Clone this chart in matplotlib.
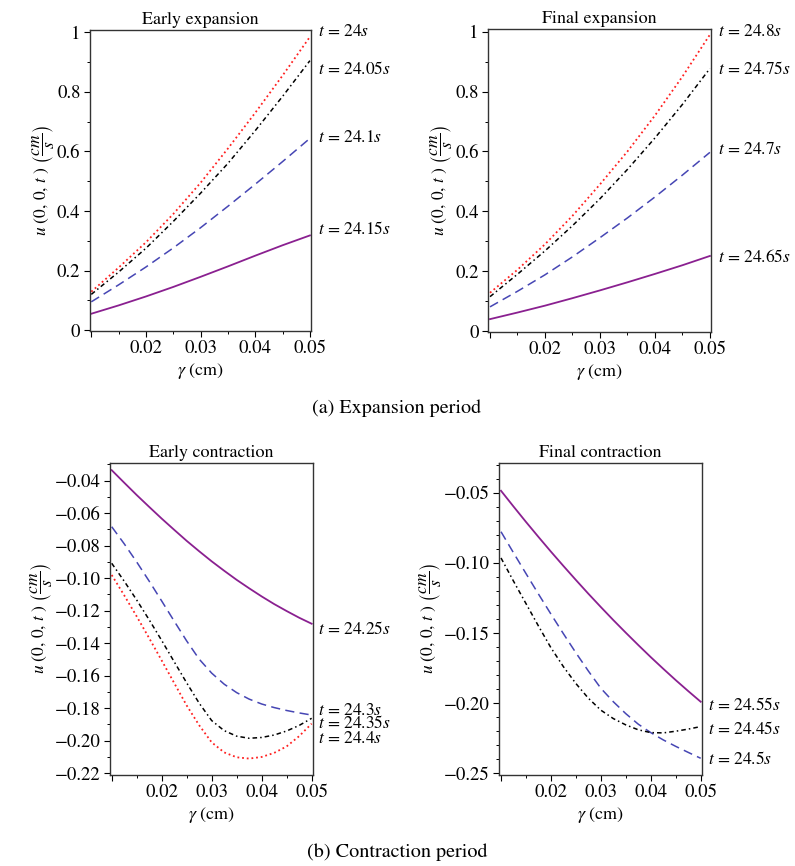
import matplotlib
matplotlib.use("Agg")
import matplotlib.pyplot as plt
from matplotlib.ticker import MultipleLocator, FixedLocator, FixedFormatter

plt.rcParams['font.family'] = ['STIXGeneral', 'DejaVu Serif']
plt.rcParams['mathtext.fontset'] = 'stix'

# ---------------- data ----------------
x9 = [0.01, 0.015, 0.02, 0.025, 0.03, 0.035, 0.04, 0.045, 0.05]
x17 = [0.01, 0.0125, 0.015, 0.0175, 0.02, 0.0225, 0.025, 0.0275, 0.03,
       0.0325, 0.035, 0.0375, 0.04, 0.0425, 0.045, 0.0475, 0.05]

# (a) Early expansion
ee_24_00 = [0.129, 0.21, 0.295, 0.39, 0.495, 0.61, 0.73, 0.855, 0.985]
ee_24_05 = [0.120, 0.195, 0.275, 0.365, 0.46, 0.56, 0.67, 0.785, 0.905]
ee_24_10 = [0.095, 0.152, 0.212, 0.276, 0.344, 0.416, 0.49, 0.566, 0.644]
ee_24_15 = [0.055, 0.083, 0.113, 0.145, 0.179, 0.214, 0.25, 0.285, 0.318]
ee_labels = ["24", "24.05", "24.1", "24.15"]

# (a) Final expansion
fe_24_80 = [0.128, 0.205, 0.29, 0.385, 0.49, 0.6, 0.72, 0.85, 0.99]
fe_24_75 = [0.115, 0.19, 0.268, 0.352, 0.442, 0.54, 0.645, 0.757, 0.877]
fe_24_70 = [0.081, 0.133, 0.188, 0.248, 0.312, 0.378, 0.448, 0.521, 0.597]
fe_24_65 = [0.040, 0.062, 0.085, 0.110, 0.136, 0.163, 0.191, 0.220, 0.251]
fe_labels = ["24.8", "24.75", "24.7", "24.65"]

# (b) Early contraction
ec_24_25 = [-0.0335, -0.0412, -0.0488, -0.0561, -0.0633, -0.0702, -0.0770, -0.0834, -0.0896,
            -0.0954, -0.1010, -0.1062, -0.1112, -0.1159, -0.1202, -0.1243, -0.1280]
ec_24_30 = [-0.0683, -0.0788, -0.0900, -0.1018, -0.1140, -0.1264, -0.1386, -0.1498, -0.1584,
            -0.1652, -0.1704, -0.1744, -0.1774, -0.1796, -0.1814, -0.1829, -0.1842]
ec_24_35 = [-0.0908, -0.1018, -0.1134, -0.1256, -0.1383, -0.1514, -0.1644, -0.1769, -0.1876,
            -0.1938, -0.1972, -0.1985, -0.1980, -0.1965, -0.1940, -0.1906, -0.1862]
ec_24_40 = [-0.0980, -0.1105, -0.1235, -0.1369, -0.1506, -0.1645, -0.1783, -0.1905, -0.2010,
            -0.2072, -0.2102, -0.2110, -0.2100, -0.2075, -0.2035, -0.1972, -0.1895]
ec_labels = ["24.25", "24.3", "24.35", "24.4"]

# (b) Final contraction
fc_24_55 = [-0.0486, -0.0598, -0.0708, -0.0815, -0.0920, -0.1022, -0.1122, -0.1220, -0.1315,
            -0.1408, -0.1498, -0.1586, -0.1672, -0.1755, -0.1836, -0.1914, -0.1990]
fc_24_50 = [-0.0778, -0.0928, -0.1076, -0.1222, -0.1365, -0.1505, -0.1641, -0.1771, -0.1894,
            -0.1990, -0.2075, -0.2150, -0.2210, -0.2262, -0.2308, -0.2351, -0.2393]
fc_24_45 = [-0.0965, -0.1130, -0.1290, -0.1450, -0.1605, -0.1740, -0.1860, -0.1965, -0.2050,
            -0.2110, -0.2155, -0.2190, -0.2210, -0.2212, -0.2200, -0.2185, -0.2167]
fc_labels = ["24.55", "24.45", "24.5"]

x_ticks = [0.01, 0.02, 0.03, 0.04, 0.05]
x_ticklabels = ["", "0.02", "0.03", "0.04", "0.05"]

titles = ["Early expansion", "Final expansion", "Early contraction", "Final contraction"]
captions = ["(a) Expansion period", "(b) Contraction period"]

# ---------------- styles ----------------
RED = '#ff2020'
BLACK = '#000000'
BLUE = '#4646b4'
PURPLE = '#8a2090'
sty = {
    'red': dict(color=RED, lw=1.3, linestyle=(0, (1, 1.6))),
    'black': dict(color=BLACK, lw=1.1, linestyle=(0, (3, 2, 1, 2))),
    'blue': dict(color=BLUE, lw=1.1, linestyle=(0, (6, 3.5))),
    'purple': dict(color=PURPLE, lw=1.3, linestyle='-'),
}

W, H = 795, 866
fig = plt.figure(figsize=(W / 100, H / 100), dpi=100)


def make_ax(l, r, t, b):
    return fig.add_axes([l / W, 1 - b / H, (r - l) / W, (b - t) / H])


def style_ax(ax, xlim, ylim, ymaj, ymin, yfmt, title):
    ax.set_xlim(*xlim)
    ax.set_ylim(*ylim)
    ax.xaxis.set_major_locator(FixedLocator(x_ticks))
    ax.xaxis.set_major_formatter(FixedFormatter(x_ticklabels))
    ax.xaxis.set_minor_locator(MultipleLocator(0.005))
    ax.yaxis.set_major_locator(MultipleLocator(ymaj))
    ax.yaxis.set_minor_locator(MultipleLocator(ymin))
    ax.yaxis.set_major_formatter(plt.FuncFormatter(yfmt))
    ax.tick_params(which='major', direction='out', length=4.5, width=0.8,
                   labelsize=13.5, pad=2)
    ax.tick_params(which='minor', direction='out', length=2.5, width=0.7)
    for s in ax.spines.values():
        s.set_linewidth(1.0)
        s.set_color('#333333')
    ax.set_title(title, fontsize=13, pad=4)
    ax.set_xlabel(r"$\gamma$ (cm)", fontsize=13, labelpad=3)
    ax.set_ylabel(r"$u\ (0,\,0,\,t\ )\ \left(\dfrac{cm}{s}\right)$", fontsize=12.5, labelpad=1)


def fmt_a(v, pos):
    if abs(v) < 1e-9:
        return "0"
    if abs(v - 1) < 1e-9:
        return "1"
    return f"{v:.1f}"


def fmt_b(v, pos):
    return f"\u2212{abs(v):.2f}"


def lab(txt):
    return r"$t$ = " + txt + r"$s$"


def ftext(x, y, s):
    fig.text(x / W, 1 - y / H, s, fontsize=12.5, ha='left', va='center')


# Panel 1: Early expansion
ax1 = make_ax(89.5, 311, 30, 331)
ax1.plot(x9, ee_24_00, **sty['red'])
ax1.plot(x9, ee_24_05, **sty['black'])
ax1.plot(x9, ee_24_10, **sty['blue'])
ax1.plot(x9, ee_24_15, **sty['purple'])
style_ax(ax1, (0.00967, 0.0502), (-0.003, 1.008), 0.2, 0.1, fmt_a, titles[0])
for s, y in zip(ee_labels, [32, 70, 138, 230]):
    ftext(318, y, lab(s))

# Panel 2: Final expansion
ax2 = make_ax(487.7, 711, 29, 331.7)
ax2.plot(x9, fe_24_80, **sty['red'])
ax2.plot(x9, fe_24_75, **sty['black'])
ax2.plot(x9, fe_24_70, **sty['blue'])
ax2.plot(x9, fe_24_65, **sty['purple'])
style_ax(ax2, (0.00958, 0.0502), (-0.002, 1.009), 0.2, 0.1, fmt_a, titles[1])
for s, y in zip(fe_labels, [32, 70, 150, 257]):
    ftext(718, y, lab(s))

# Panel 3: Early contraction
ax3 = make_ax(110, 313.3, 462.7, 775)
ax3.plot(x17, ec_24_25, **sty['purple'])
ax3.plot(x17, ec_24_30, **sty['blue'])
ax3.plot(x17, ec_24_35, **sty['black'])
ax3.plot(x17, ec_24_40, **sty['red'])
style_ax(ax3, (0.00966, 0.05033), (-0.2211, -0.0289), 0.02, 0.01, fmt_b, titles[2])
for s, y in zip(ec_labels, [629, 711, 723, 739]):
    ftext(318, y, lab(s))

# Panel 4: Final contraction
ax4 = make_ax(499, 702.3, 462.7, 774.7)
ax4.plot(x17, fc_24_55, **sty['purple'])
ax4.plot(x17, fc_24_50, **sty['blue'])
ax4.plot(x17, fc_24_45, **sty['black'])
style_ax(ax4, (0.0096, 0.05032), (-0.251, -0.0286), 0.05, 0.01, fmt_b, titles[3])
for s, y in zip(fc_labels, [705, 730, 760]):
    ftext(708, y, lab(s))

# captions
fig.text(397 / W, 1 - 408 / H, captions[0], fontsize=14.5, ha='center', va='center')
fig.text(397 / W, 1 - 852 / H, captions[1], fontsize=14.5, ha='center', va='center')

fig.savefig("out.png", dpi=100)
